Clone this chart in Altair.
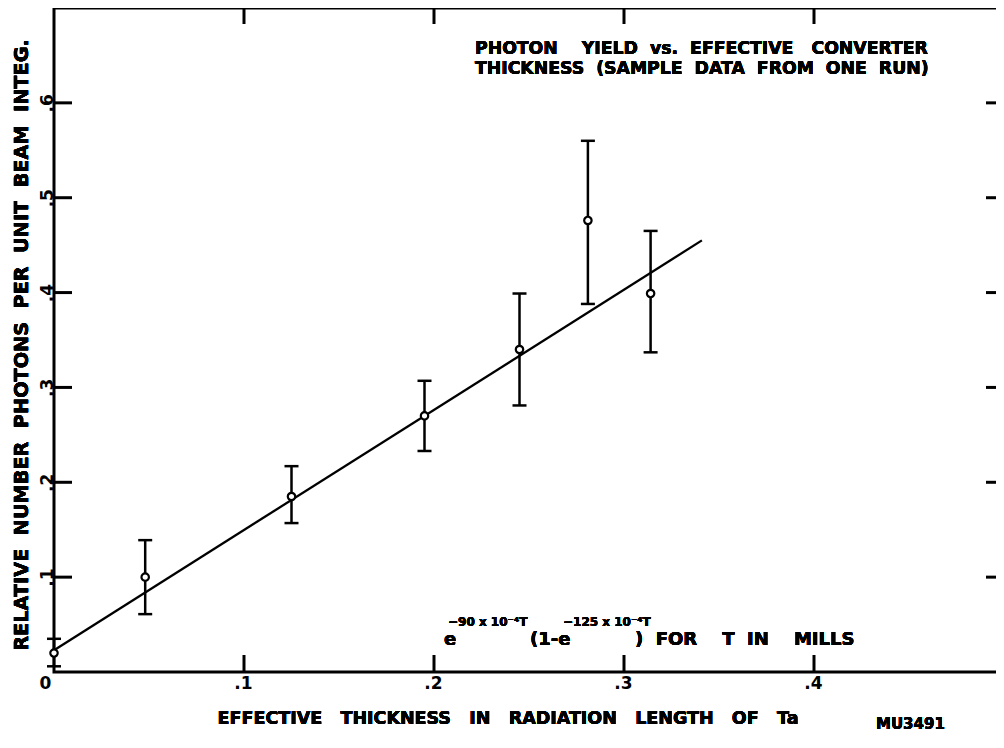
import altair as alt
import pandas as pd

# ---------------- data ----------------
thickness = [0.0, 0.048, 0.125, 0.195, 0.245, 0.281, 0.314]
photon_yield = [0.020, 0.100, 0.185, 0.270, 0.340, 0.476, 0.399]
err_low = [0.006, 0.061, 0.157, 0.233, 0.281, 0.388, 0.337]
err_high = [0.035, 0.139, 0.217, 0.307, 0.399, 0.560, 0.465]

fit_x = [0.0, 0.341]
fit_y = [0.023, 0.455]

x_tick_values = [0.1, 0.2, 0.3, 0.4]
x_label_values = [0.0, 0.1, 0.2, 0.3, 0.4]
y_tick_values = [0.1, 0.2, 0.3, 0.4, 0.5, 0.6]

NB = "\u00a0"
title_line1 = "PHOTON" + NB * 4 + "YIELD" + NB * 2 + "vs." + NB * 2 + "EFFECTIVE" + NB * 3 + "CONVERTER"
title_line2 = "THICKNESS" + NB * 2 + "(SAMPLE" + NB * 2 + "DATA" + NB * 2 + "FROM" + NB * 2 + "ONE" + NB * 2 + "RUN)"
x_title = ("EFFECTIVE" + NB * 3 + "THICKNESS" + NB * 3 + "IN" + NB * 3 + "RADIATION" + NB * 3
           + "LENGTH" + NB * 3 + "OF" + NB * 3 + "Ta")
y_title = (NB * 2).join(["RELATIVE", "NUMBER", "PHOTONS", "PER", "UNIT", "BEAM", "INTEG."])
formula_e1 = "e"
formula_sup1 = "\u221290 x 10\u207b\u2074T"
formula_mid = "(1-e"
formula_sup2 = "\u2212125 x 10\u207b\u2074T"
formula_end = ")" + NB * 2 + "FOR" + NB * 4 + "T" + NB * 2 + "IN" + NB * 4 + "MILLS"
code_label = "MU3491"

FONT = "DejaVu Sans"

points = pd.DataFrame({"x": thickness, "y": photon_yield, "lo": err_low, "hi": err_high})
fit = pd.DataFrame({"x": fit_x, "y": fit_y})
xt = pd.DataFrame({"v": x_tick_values})
yt = pd.DataFrame({"v": y_tick_values})

W, H = 950, 664
xs = alt.Scale(domain=[0, 0.5], nice=False, zero=False)
ys = alt.Scale(domain=[0, 0.7], nice=False, zero=False)

x_axis = alt.Axis(values=x_label_values, ticks=False, tickSize=0, domain=False, grid=False, title=None,
                  labelExpr="datum.value == 0 ? '0' : replace(format(datum.value, '.1f'), '0.', '.')",
                  labelFont=FONT, labelFontWeight="bold", labelFontSize=17, labelColor="black",
                  labelPadding=3, labelFlush=False,
                  labelOffset={"condition": {"test": "datum.value == 0", "value": -9}, "value": -1})
y_axis = alt.Axis(values=y_tick_values, ticks=False, tickSize=0, domain=False, grid=False, title=None,
                  labelExpr="replace(format(datum.value, '.1f'), '0.', '.')",
                  labelFont=FONT, labelFontWeight="bold", labelFontSize=17, labelColor="black",
                  labelAngle=270, labelAlign="center", labelBaseline="alphabetic", labelPadding=2,
                  labelFlush=False)

X = alt.X("x:Q", scale=xs, axis=x_axis)
Y = alt.Y("y:Q", scale=ys, axis=y_axis)

bars = alt.Chart(points).mark_rule(color="black", strokeWidth=2.5).encode(
    x=X, y=alt.Y("lo:Q", scale=ys, axis=y_axis), y2="hi:Q")
cap_lo = alt.Chart(points).mark_tick(color="black", orient="horizontal", size=14, thickness=2.5, opacity=1).encode(
    x=X, y=alt.Y("lo:Q", scale=ys, axis=y_axis))
cap_hi = alt.Chart(points).mark_tick(color="black", orient="horizontal", size=14, thickness=2.5, opacity=1).encode(
    x=X, y=alt.Y("hi:Q", scale=ys, axis=y_axis))
line = alt.Chart(fit).mark_line(color="black", strokeWidth=2.3).encode(x=X, y=Y)
dots = alt.Chart(points).mark_point(shape="circle", filled=True, fill="white", stroke="black",
                                    strokeWidth=2.2, size=55, opacity=1).encode(x=X, y=Y)

tick_bottom = alt.Chart(xt).mark_rule(color="black", strokeWidth=3).encode(
    x=alt.X("v:Q", scale=xs, axis=x_axis), y=alt.value(H), y2=alt.value(H - 17))
tick_top = alt.Chart(xt).mark_rule(color="black", strokeWidth=3).encode(
    x=alt.X("v:Q", scale=xs, axis=x_axis), y=alt.value(0), y2=alt.value(16))
tick_left = alt.Chart(yt).mark_rule(color="black", strokeWidth=3).encode(
    y=alt.Y("v:Q", scale=ys, axis=y_axis), x=alt.value(0), x2=alt.value(18))
tick_right = alt.Chart(yt).mark_rule(color="black", strokeWidth=3).encode(
    y=alt.Y("v:Q", scale=ys, axis=y_axis), x=alt.value(W), x2=alt.value(W - 18))


def txt(s, x, y, size=17.0, align="left", angle=0, weight="bold"):
    props = dict(font=FONT, fontSize=size, fontWeight=weight, color="black", align=align,
                 baseline="alphabetic")
    if angle:
        props["angle"] = angle
    return alt.Chart(points).mark_text(**props).encode(
        x=alt.value(x), y=alt.value(y), text=alt.value(s))


texts = [
    txt(title_line1, 421, 46, size=17.3),
    txt(title_line2, 421, 66, size=17.3),
    txt(formula_e1, 390, 637, size=18),
    txt(formula_sup1, 394, 618, size=12),
    txt(formula_mid, 476, 637, size=18),
    txt(formula_sup2, 509, 618, size=12),
    txt(formula_end, 581, 637, size=18),
    txt(x_title, 454, 716, size=17.5, align="center"),
    txt(code_label, 822, 721, size=15),
    txt(y_title, -26, 337, size=19.3, align="center", angle=270),
]

chart = alt.layer(bars, cap_lo, cap_hi, line, dots, tick_bottom, tick_top, tick_left, tick_right, *texts).properties(
    width=W, height=H,
    autosize=alt.AutoSizeParams(type="none"),
    padding={"left": 46, "top": 0, "right": -8, "bottom": 62},
    background="white",
).configure_view(stroke="black", strokeWidth=3)

chart.save("out.html", embed_options={"renderer": "svg", "actions": False})
